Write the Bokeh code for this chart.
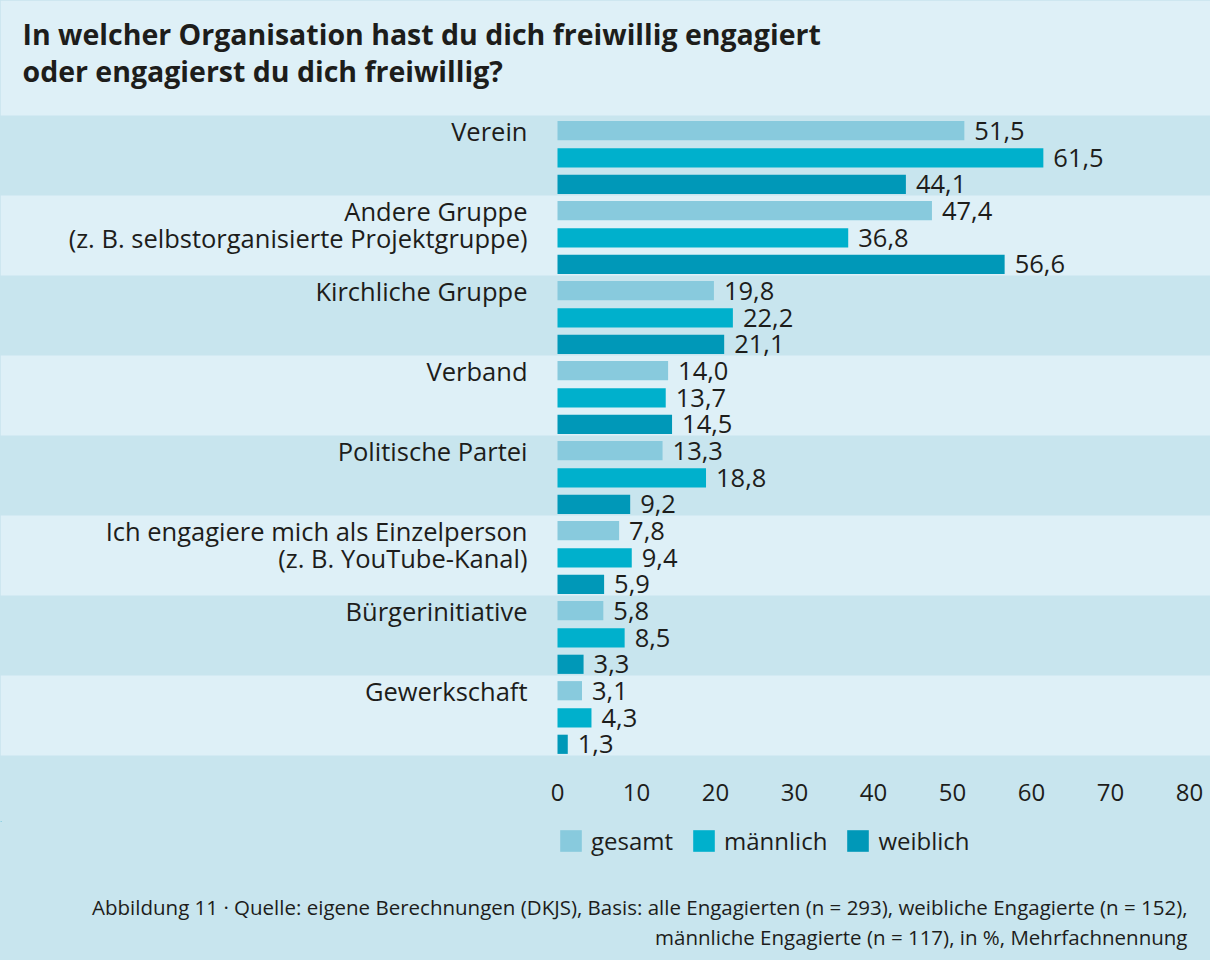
from bokeh.plotting import figure
from bokeh.layouts import column
from bokeh.models import Range1d, FixedTicker, Legend, LegendItem, Label, ColumnDataSource
from bokeh.core.properties import value
from bokeh.embed import file_html
from bokeh.resources import INLINE

# ---------------- data ----------------
categories = ["Verein", "Andere Gruppe", "Kirchliche Gruppe", "Verband",
              "Politische Partei", "Ich engagiere mich als Einzelperson",
              "Bürgerinitiative", "Gewerkschaft"]
label_line2 = ["", "(z. B. selbstorganisierte Projektgruppe)", "", "", "",
               "(z. B. YouTube-Kanal)", "", ""]
gesamt = [51.5, 47.4, 19.8, 14.0, 13.3, 7.8, 5.8, 3.1]
maennlich = [61.5, 36.8, 22.2, 13.7, 18.8, 9.4, 8.5, 4.3]
weiblich = [44.1, 56.6, 21.1, 14.5, 9.2, 5.9, 3.3, 1.3]
series_names = ["gesamt", "männlich", "weiblich"]
x_ticks = [0, 10, 20, 30, 40, 50, 60, 70, 80]

title_lines = ["In welcher Organisation hast du dich freiwillig engagiert",
               "oder engagierst du dich freiwillig?"]
footnote_lines = ["Abbildung 11 · Quelle: eigene Berechnungen (DKJS), Basis: alle Engagierten (n = 293), weibliche Engagierte (n = 152),",
                  "männliche Engagierte (n = 117), in %, Mehrfachnennung"]

# ---------------- style ----------------
FONT = "Open Sans"
TXT = "#1d1d1b"
LIGHT = "#def0f7"
DARK = "#c8e5ee"
COLORS = ["#88cadd", "#00b0cc", "#0098b8"]
OFFSETS = [-0.31, 0.03, 0.36]
BAR_H = 0.24

W = 1210
PX = 7.9           # px per x unit
ZERO = 557         # frame px of x = 0
ROW = 80.0
TOP = 115.0
FRAME_H = 771
AXIS_H = 50
H1 = FRAME_H + AXIS_H
H2 = 960 - H1

x_start = -ZERO / PX
x_end = (W - ZERO) / PX
y_top = -0.5 - TOP / ROW
y_bottom = y_top + FRAME_H / ROW


def px_x(px):
    return (px - ZERO) / PX


def px_y(px):
    return y_top + px / ROW


p = figure(width=W, height=H1, output_backend="svg", toolbar_location=None,
           x_range=Range1d(x_start, x_end), y_range=Range1d(y_bottom, y_top),
           y_axis_location=None, min_border_left=0, min_border_right=0,
           min_border_top=0, min_border_bottom=AXIS_H)
p.background_fill_color = None
p.border_fill_color = DARK
p.outline_line_color = None
p.grid.visible = False

# background bands
n = len(categories)
band_rows = [i for i in range(n) if i % 2 == 1]
p.quad(left=[x_start] * len(band_rows), right=[x_end] * len(band_rows),
       top=[i - 0.5 for i in band_rows], bottom=[i + 0.5 for i in band_rows],
       fill_color=LIGHT, line_color=None)
p.quad(left=[x_start], right=[x_end], top=[y_top], bottom=[-0.5],
       fill_color=LIGHT, line_color=None)

# bars
for s, (vals, col, off) in enumerate(zip([gesamt, maennlich, weiblich], COLORS, OFFSETS)):
    src = ColumnDataSource(dict(
        y=[i + off for i in range(n)],
        v=vals,
        lab=[f"{v:.1f}".replace(".", ",") for v in vals],
    ))
    p.hbar(y="y", right="v", left=0, height=BAR_H, source=src,
           fill_color=col, line_color=None)
    p.text(x="v", y="y", text="lab", source=src, x_offset=10,
           text_align="left", text_baseline="middle",
           text_font=value(FONT), text_font_size="25.5px", text_color=TXT)

# category labels
lsrc1 = ColumnDataSource(dict(x=[0] * n, y=[i + OFFSETS[0] for i in range(n)], t=categories))
p.text(x="x", y="y", text="t", source=lsrc1, x_offset=-30, text_align="right",
       text_baseline="middle", text_font=value(FONT), text_font_size="25.5px", text_color=TXT)
idx2 = [i for i in range(n) if label_line2[i]]
lsrc2 = ColumnDataSource(dict(x=[0] * len(idx2), y=[i + OFFSETS[1] for i in idx2],
                              t=[label_line2[i] for i in idx2]))
p.text(x="x", y="y", text="t", source=lsrc2, x_offset=-30, text_align="right",
       text_baseline="middle", text_font=value(FONT), text_font_size="25.5px", text_color=TXT)

# title (inside frame, top band)
for k, line in enumerate(title_lines):
    p.add_layout(Label(x=px_x(22), y=px_y(33 + k * 37), text=line,
                       text_font=FONT, text_font_size="28.5px", text_font_style="bold",
                       text_color=TXT, text_baseline="middle", text_align="left"))

# x axis
ax = p.xaxis[0]
ax.ticker = FixedTicker(ticks=x_ticks)
ax.axis_line_color = None
ax.major_tick_line_color = None
ax.minor_tick_line_color = None
ax.major_tick_out = 0
ax.major_tick_in = 0
ax.major_label_standoff = 12
ax.major_label_text_font = FONT
ax.major_label_text_font_size = "24px"
ax.major_label_text_color = TXT

# ---------------- lower panel: legend + footnote ----------------
q = figure(width=W, height=H2, output_backend="svg", toolbar_location=None,
           x_range=Range1d(0, W), y_range=Range1d(H2, 0),
           x_axis_location=None, y_axis_location=None,
           min_border_left=0, min_border_right=0, min_border_top=0, min_border_bottom=0)
q.background_fill_color = None
q.border_fill_color = DARK
q.outline_line_color = None
q.grid.visible = False

# legend keys: one off-screen bar per series so the legend can draw its swatch
key_renderers = []
for col in COLORS:
    key_renderers.append(q.hbar(y=[-1000], right=[1], left=0, height=1,
                                fill_color=col, line_color=None))
legend = Legend(items=[LegendItem(label=nm, renderers=[r]) for nm, r in zip(series_names, key_renderers)],
                orientation="horizontal", location=(557, H2 - 9 - 27),
                background_fill_alpha=0, border_line_color=None,
                glyph_width=27, glyph_height=27, label_standoff=7, spacing=17,
                label_text_font=FONT, label_text_font_size="24px", label_text_color=TXT,
                label_height=27, padding=0, margin=0)
q.add_layout(legend)

for k, line in enumerate(footnote_lines):
    q.add_layout(Label(x=1187, y=85 + k * 30, text=line,
                       text_font=FONT, text_font_size="20.5px", text_color=TXT,
                       text_baseline="middle", text_align="right"))

layout = column(p, q, spacing=0, styles={"background-color": DARK})
open("out.html", "w").write(file_html(layout, INLINE))
